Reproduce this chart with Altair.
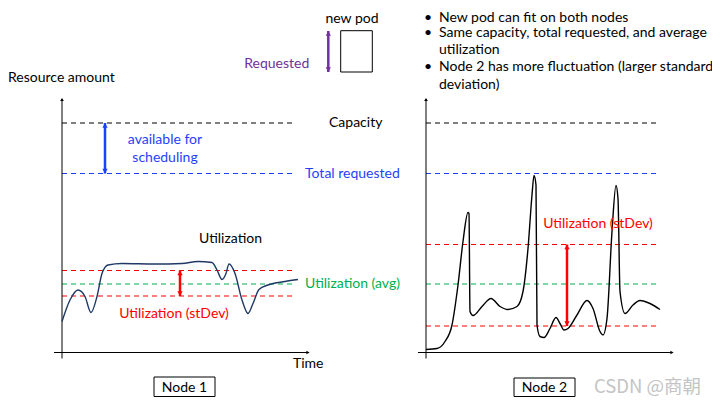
import altair as alt
import pandas as pd

# ---------------- data (diagram units: t = time, a = resource amount) -------------
node_names = ["Node 1", "Node 2"]
node_offsets = [0, 364]          # horizontal placement of each panel

node1_t = [0, 8, 16, 23, 29, 35, 40, 46, 60, 93, 120, 136, 150, 155, 160, 164, 167,
           173, 180, 186, 191, 197, 206, 223, 236]
node1_a = [31, 52.5, 62.5, 56, 40, 56, 79, 87.5, 89, 88.5, 89, 91, 90, 82.5, 73, 79, 88.5,
           79, 52.5, 39, 49, 63, 67.5, 71, 73]

node2_t = [0, 11, 19, 26, 32, 37, 42, 43, 44, 47, 56, 65, 74, 82, 91, 97, 102, 106, 108,
           110, 111, 114, 118, 124, 130, 134, 138, 142, 151, 161, 167, 174, 177, 181, 186,
           190, 192, 194, 199, 207, 214, 224, 234]
node2_a = [3, 4, 11, 27.5, 67.5, 111, 140, 139, 41, 37, 46, 54, 46, 43, 46, 61, 104, 157.5,
           177, 167.5, 27.5, 16, 15, 24, 35, 29, 22.5, 24, 37.5, 52, 44, 21, 17.5, 34, 121,
           167, 154, 61, 39, 47.5, 52, 49, 43]

capacity = 229.5
total_requested = 179
util_avg = [68.5, 68.5]
util_upper = [82, 108]
util_lower = [56.5, 26.5]
line_end = 234

level_names = ["Capacity", "Total requested", "stDev upper", "Utilization (avg)", "stDev lower"]
level_colors = ["#000000", "#1f3fff", "#ff0000", "#00b050", "#ff0000"]

bullets = ["New pod can fit on both nodes",
           "Same capacity, total requested, and average",
           "utilization",
           "Node 2 has more fluctuation (larger standard",
           "deviation)"]
bullet_marks = ["•", "•", "", "•", ""]
bullet_a = [335, 319.5, 303, 285.5, 268]

FONT = "Lato"
FS = 14
BLUE = "#1f3fff"
RED = "#ff0000"
GREEN = "#00b050"
PURPLE = "#7030a0"
NAVY = "#1f3864"

# ---------------- tables -------------
curve_rows = []
for t, a in zip(node1_t, node1_a):
    curve_rows.append({"node": "Node 1", "x": node_offsets[0] + t, "a": a, "c": NAVY})
for t, a in zip(node2_t, node2_a):
    curve_rows.append({"node": "Node 2", "x": node_offsets[1] + t, "a": a, "c": "#000000"})
curves = pd.DataFrame(curve_rows)

lvl_rows = []
for i, off in enumerate(node_offsets):
    vals = [capacity, total_requested, util_upper[i], util_avg[i], util_lower[i]]
    for name, v, c in zip(level_names, vals, level_colors):
        lvl_rows.append({"node": node_names[i], "level": name, "x": off, "x2": off + line_end,
                         "a": v, "c": c})
levels = pd.DataFrame(lvl_rows)

# axes of each panel
axis_rows = []
for off in node_offsets:
    axis_rows.append({"x": off, "x2": off, "a": -6, "a2": 253})      # y axis
    axis_rows.append({"x": off - 8, "x2": off + 246, "a": 0, "a2": 0})  # x axis
axes = pd.DataFrame(axis_rows)
axis_heads = pd.DataFrame([
    {"x": node_offsets[0], "a": 253, "shape": "triangle-up"},
    {"x": node_offsets[1], "a": 253, "shape": "triangle-up"},
    {"x": node_offsets[0] + 246, "a": 0, "shape": "triangle-right"},
    {"x": node_offsets[1] + 246, "a": 0, "shape": "triangle-right"},
])

# double-headed arrows
arrows = pd.DataFrame([
    {"x": 43, "top": capacity, "bot": total_requested, "c": BLUE},
    {"x": 118, "top": util_upper[0], "bot": util_lower[0], "c": RED},
    {"x": node_offsets[1] + 141, "top": util_upper[1], "bot": util_lower[1], "c": RED},
    {"x": 266.3, "top": 321.5, "bot": 280.5, "c": PURPLE},
])
heads = pd.concat([
    pd.DataFrame({"x": arrows["x"], "a": arrows["top"] - 2.5, "shape": "triangle-up", "c": arrows["c"]}),
    pd.DataFrame({"x": arrows["x"], "a": arrows["bot"] + 2.5, "shape": "triangle-down", "c": arrows["c"]}),
])

# boxes
boxes = pd.DataFrame([
    {"x": 92, "x2": 153, "a": -24.5, "a2": -44},
    {"x": node_offsets[1] + 88, "x2": node_offsets[1] + 149, "a": -25.5, "a2": -44},
    {"x": 278.7, "x2": 310.3, "a": 321.8, "a2": 280.5},
])

# texts
left_texts = pd.DataFrame([
    {"x": -54, "a": 274.5, "text": "Resource amount", "c": "#000000"},
    {"x": 231, "a": -11.5, "text": "Time", "c": "#000000"},
    {"x": 267, "a": 229.5, "text": "Capacity", "c": "#000000"},
    {"x": 243, "a": 178.5, "text": "Total requested", "c": BLUE},
    {"x": 243, "a": 68.5, "text": "Utilization (avg)", "c": GREEN},
] + [
    {"x": 377, "a": a, "text": s, "c": "#000000"} for s, a in zip(bullets, bullet_a)
] + [
    {"x": 362, "a": a, "text": m, "c": "#000000"} for m, a in zip(bullet_marks, bullet_a) if m
])
center_texts = pd.DataFrame([
    {"x": 103, "a": 213, "text": "available for", "c": BLUE},
    {"x": 103, "a": 195, "text": "scheduling", "c": BLUE},
    {"x": 168.5, "a": 114, "text": "Utilization", "c": "#000000"},
    {"x": 112, "a": 38.5, "text": "Utilization (stDev)", "c": RED},
    {"x": node_offsets[1] + 172, "a": 128.5, "text": "Utilization (stDev)", "c": RED},
    {"x": 122.5, "a": -35, "text": "Node 1", "c": "#000000"},
    {"x": node_offsets[1] + 118.5, "a": -35, "text": "Node 2", "c": "#000000"},
    {"x": 290, "a": 334, "text": "new pod", "c": "#000000"},
])
right_texts = pd.DataFrame([
    {"x": 247.3, "a": 289, "text": "Requested", "c": PURPLE},
])
watermark = pd.DataFrame([{"x": 532, "a": -34, "text": "CSDN @商朝"}])

# ---------------- chart -------------
X = alt.X("x:Q", scale=alt.Scale(domain=[-54, 650], nice=False, zero=False), axis=None)
Y = alt.Y("a:Q", scale=alt.Scale(domain=[-44.5, 344.5], nice=False, zero=False), axis=None)
C = alt.Color("c:N", scale=None)

lvl_layer = alt.Chart(levels).mark_rule(strokeWidth=1.1, strokeDash=[5, 4]).encode(
    x=X, x2="x2:Q", y=Y, color=C)

curve_layer = alt.Chart(curves).mark_line(interpolate="monotone", strokeWidth=1.4).encode(
    x=X, y=Y, color=C, detail="node:N", order=alt.Order("x:Q"))

axis_layer = alt.Chart(axes).mark_rule(color="#000000", strokeWidth=1).encode(
    x=X, x2="x2:Q", y=Y, y2="a2:Q")
axis_head_layer = alt.Chart(axis_heads).mark_point(filled=True, color="#000000", size=14, opacity=1).encode(
    x=X, y=Y, shape=alt.Shape("shape:N", scale=None))

arrow_layer = alt.Chart(arrows).mark_rule(strokeWidth=2.5).encode(
    x=X, y=alt.Y("top:Q", scale=alt.Scale(domain=[-44.5, 344.5], nice=False, zero=False), axis=None),
    y2="bot:Q", color=C)
head_layer = alt.Chart(heads).mark_point(filled=True, size=28, opacity=1).encode(
    x=X, y=Y, shape=alt.Shape("shape:N", scale=None), color=C)

box_layer = alt.Chart(boxes).mark_rect(fill="#ffffff", stroke="#000000", strokeWidth=1).encode(
    x=X, x2="x2:Q", y=Y, y2="a2:Q")

T = alt.Text("text:N")
left_layer = alt.Chart(left_texts).mark_text(align="left", baseline="middle", font=FONT, fontSize=FS).encode(
    x=X, y=Y, text=T, color=C)
center_layer = alt.Chart(center_texts).mark_text(align="center", baseline="middle", font=FONT, fontSize=FS).encode(
    x=X, y=Y, text=T, color=C)
right_layer = alt.Chart(right_texts).mark_text(align="right", baseline="middle", font=FONT, fontSize=FS).encode(
    x=X, y=Y, text=T, color=C)
wm_layer = alt.Chart(watermark).mark_text(align="left", baseline="middle", font="Noto Sans CJK SC",
                                          fontSize=18.5, color="#c4c4c4").encode(x=X, y=Y, text=T)

chart = alt.layer(
    lvl_layer, axis_layer, axis_head_layer, curve_layer, arrow_layer, head_layer,
    box_layer, left_layer, center_layer, right_layer, wm_layer
).properties(
    width=704, height=389, padding=0, autosize=alt.AutoSizeParams(type="none"),
    background="#ffffff"
).configure_view(stroke=None)

chart.save("out.html", embed_options={"renderer": "svg", "actions": False})
